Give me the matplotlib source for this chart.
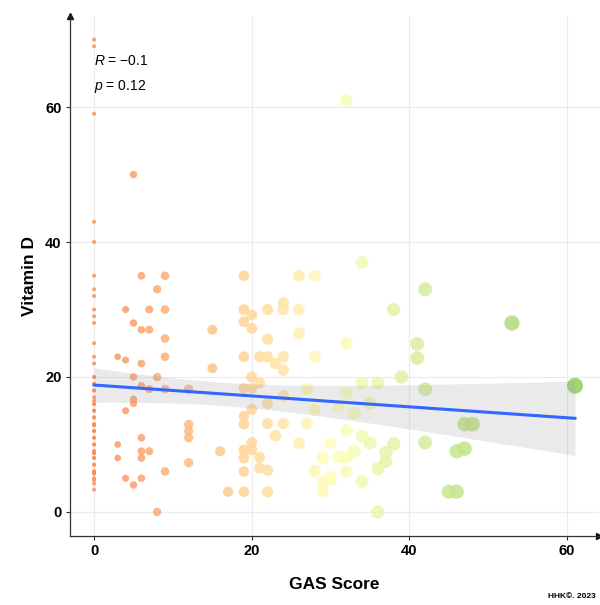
import numpy as np
import matplotlib.pyplot as plt
from matplotlib.colors import LinearSegmentedColormap

# GAS score and vitamin D, one entry per participant (read off the chart;
# repeated values at GAS 0 overlap exactly in the picture)
gas_score = (
    [0] * 52
    + [3] * 3 + [4] * 4 + [5] * 6 + [6] * 8 + [7] * 4 + [8] * 3 + [9] * 6
    + [12] * 5 + [15] * 2 + [16] + [17]
    + [19] * 11 + [20] * 7 + [21] * 4 + [22] * 7 + [23] * 2 + [24] * 6
    + [26] * 4 + [27] * 2 + [28] * 4 + [29] * 3 + [30] * 3 + [31] * 2
    + [32] * 6 + [33] * 2 + [34] * 4 + [35] * 2 + [36] * 3 + [37] * 2
    + [38] * 2 + [39] + [41] * 2 + [42] * 3 + [45] + [46] * 2 + [47] * 2
    + [48] + [53] + [61]
)
vitamin_d = (
    [70, 69, 59, 43, 40, 35, 33, 32, 30, 29, 28, 25, 23, 22, 20, 19, 18, 17,
     16.5, 16, 15, 14, 13, 12.8, 12, 11, 10, 9, 8.7, 8, 7, 6, 5.7, 5, 4.7, 4.2, 3.3,
     5.7, 6, 7, 8, 8.7, 9, 10, 11, 12, 13, 14, 15, 16, 18, 20]
    + [23, 10, 8]
    + [30, 22.5, 15, 5]
    + [50, 28, 20, 16.7, 16.1, 4]
    + [35, 27, 22, 18.7, 11, 9, 8, 5]
    + [30, 27, 18.2, 9]
    + [33, 20, 0]
    + [35, 30, 25.7, 23, 18.2, 6]
    + [18.2, 13, 12, 11, 7.3]
    + [27, 21.3]
    + [9]
    + [3]
    + [35, 30, 28.2, 23, 18.3, 14.2, 13, 9.2, 8, 6, 3]
    + [29.2, 27.2, 20, 18.3, 15.2, 10.3, 9.2]
    + [23, 19.1, 8.1, 6.5]
    + [30, 25.6, 23, 16.1, 13.1, 6.2, 3]
    + [22, 11.3]
    + [31, 30, 23, 21, 17.2, 13.1]
    + [35, 30, 26.5, 10.2]
    + [18.2, 13.1]
    + [35, 23, 15.1, 6.1]
    + [8, 4.5, 3.1]
    + [10.2, 5.2, 4.7]
    + [15.6, 8.2]
    + [61, 25, 17.6, 12.1, 8.1, 6]
    + [14.6, 9]
    + [37, 19.1, 11.2, 4.5]
    + [16.1, 10.2]
    + [19.1, 6.4, 0]
    + [8.8, 7.5]
    + [30, 10.1]
    + [20]
    + [24.9, 22.8]
    + [33, 18.2, 10.3]
    + [3]
    + [9, 3]
    + [9.4, 13]
    + [13]
    + [28]
    + [18.7]
)
x_ticks = [0, 20, 40, 60]
y_ticks = [0, 20, 40, 60]
r_label = "$\\it{R}$ = \u22120.1"
p_label = "$\\it{p}$ = 0.12"

plt.rcParams["font.family"] = ["Liberation Sans", "DejaVu Sans"]
plt.rcParams["mathtext.fontset"] = "custom"
plt.rcParams["mathtext.it"] = "Liberation Sans:italic"
plt.rcParams["mathtext.rm"] = "Liberation Sans"

x = np.array(gas_score, dtype=float)
y = np.array(vitamin_d, dtype=float)

cmap = LinearSegmentedColormap.from_list("gas", ["#FC8D59", "#FFFFBF", "#91CF60"])
diam_px = 4 + 12 * np.sqrt(x / x.max())
sizes = (diam_px * 0.72) ** 2

fig = plt.figure(figsize=(6, 6.05), dpi=100)
ax = fig.add_axes([0.1167, 0.1147, 0.8817, 0.859])

ax.scatter(x, y, s=sizes, c=x, cmap=cmap, vmin=0, vmax=x.max(),
           alpha=0.85, linewidths=0, zorder=2)

# linear fit with 95% band, like geom_smooth(method = "lm")
n = len(x)
slope, intercept = np.polyfit(x, y, 1)
xs = np.linspace(x.min(), x.max(), 100)
ys = intercept + slope * xs
resid = y - (intercept + slope * x)
s_err = np.sqrt(np.sum(resid ** 2) / (n - 2))
se = s_err * np.sqrt(1 / n + (xs - x.mean()) ** 2 / np.sum((x - x.mean()) ** 2))
ax.fill_between(xs, ys - 1.97 * se, ys + 1.97 * se, color="#999999",
                alpha=0.2, linewidth=0, zorder=3)
ax.plot(xs, ys, color="#3366FF", linewidth=2.2, zorder=4)

ax.text(0.05, 66.8, r_label, fontsize=10, va="center", ha="left", zorder=5)
ax.text(0.05, 63.0, p_label, fontsize=10, va="center", ha="left", zorder=5)

ax.set_xlim(-3.05, 64.05)
ax.set_ylim(-3.5, 73.5)
ax.set_xticks(x_ticks)
ax.set_yticks(y_ticks)
ax.grid(True, color="#EBEBEB", linewidth=0.8, zorder=0)
ax.set_axisbelow(True)

for side in ["top", "right"]:
    ax.spines[side].set_visible(False)
for side in ["left", "bottom"]:
    ax.spines[side].set_color("#333333")
    ax.spines[side].set_linewidth(0.9)
ax.plot(1, 0, ">", color="#111111", markersize=4, transform=ax.transAxes, clip_on=False)
ax.plot(0, 1, "^", color="#111111", markersize=4, transform=ax.transAxes, clip_on=False)

ax.tick_params(axis="both", length=3, color="#333333", labelsize=10.5, pad=3)
for lab in ax.get_xticklabels() + ax.get_yticklabels():
    lab.set_fontweight("bold")

ax.set_xlabel("GAS Score", fontsize=12.5, fontweight="bold", labelpad=14)
ax.set_ylabel("Vitamin D", fontsize=12.5, fontweight="bold", labelpad=6)

fig.text(0.993, 0.008, "HHK\u00a9. 2023", fontsize=6, fontweight="bold",
         ha="right", va="bottom")

fig.savefig("out.png", dpi=100)
